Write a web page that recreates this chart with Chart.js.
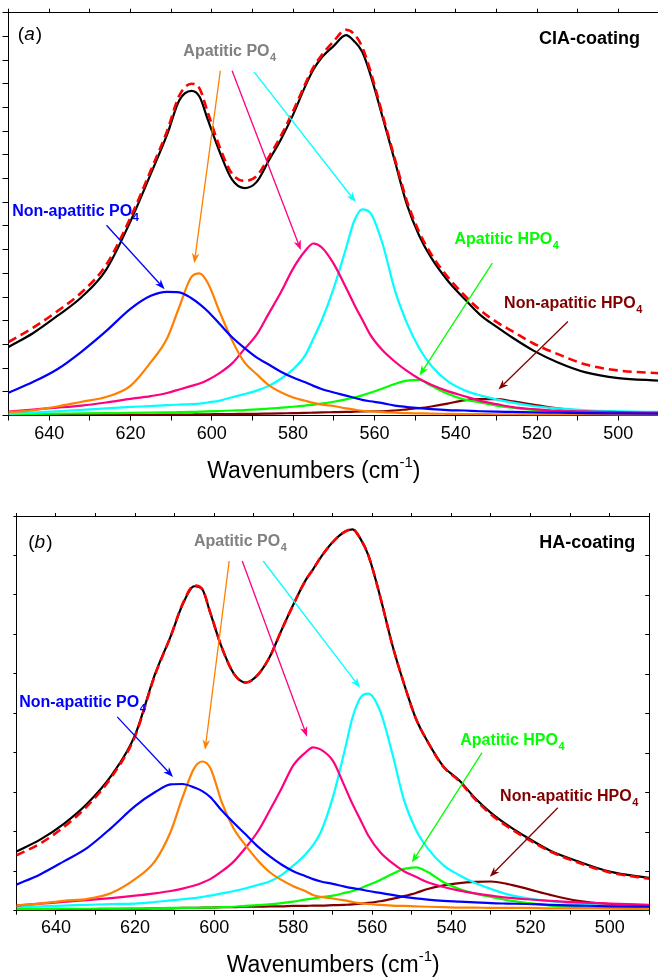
<!DOCTYPE html>
<html>
<head>
<meta charset="utf-8">
<title>PO4 band deconvolution</title>
<script src="https://cdn.jsdelivr.net/npm/chart.js@4.4.1/dist/chart.umd.min.js"></script>
<style>
  html, body { margin: 0; padding: 0; background: #fff; overflow: hidden; }
  .panel { position: absolute; left: 0; }
  #panel-a { top: 0; }
  #panel-b { top: 490px; }
</style>
</head>
<body>
<div class="panel" id="panel-a"><canvas id="chart-a" width="662" height="490"></canvas></div>
<div class="panel" id="panel-b"><canvas id="chart-b" width="658" height="489"></canvas></div>
<script>
// shared x grid (cm-1)
const wavenumbers = [650, 644, 638, 632, 626, 620, 615, 611, 608, 605, 603, 601, 598, 595, 592, 589, 586, 583, 580, 577, 575, 573, 570, 567, 565, 563, 561, 558, 555, 552, 549, 546, 542, 538, 534, 530, 526, 521, 515, 508, 500, 490];
const xTickLabels = [640, 620, 600, 580, 560, 540, 520, 500];

// (a) CIA-coating
const ciaMeasured = [2.89, 3.47, 4.2, 5.0, 6.15, 8.2, 10.2, 11.85, 13.3, 13.7, 13.45, 12.5, 11.1, 9.95, 9.6, 9.85, 10.75, 11.65, 12.7, 13.9, 14.6, 15.1, 15.6, 16.05, 15.8, 15.35, 14.4, 12.6, 10.75, 8.9, 7.6, 6.65, 5.7, 4.95, 4.25, 3.75, 3.28, 2.75, 2.25, 1.82, 1.58, 1.47];
const ciaFit = [3.1, 3.7, 4.4, 5.2, 6.35, 8.35, 10.35, 12.0, 13.5, 14.0, 13.8, 12.8, 11.3, 10.2, 9.9, 10.1, 10.9, 11.8, 12.85, 14.0, 14.7, 15.2, 15.8, 16.28, 16.1, 15.55, 14.55, 12.7, 10.85, 9.05, 7.75, 6.8, 5.85, 5.1, 4.45, 3.95, 3.55, 3.05, 2.6, 2.15, 1.9, 1.78];
const ciaNonApPO4 = [0.96, 1.41, 1.95, 2.7, 3.56, 4.5, 5.05, 5.22, 5.2, 4.95, 4.7, 4.4, 3.85, 3.3, 2.85, 2.45, 2.15, 1.85, 1.6, 1.4, 1.25, 1.12, 0.97, 0.84, 0.75, 0.66, 0.6, 0.52, 0.42, 0.36, 0.31, 0.27, 0.23, 0.21, 0.18, 0.16, 0.15, 0.13, 0.12, 0.1, 0.09, 0.08];
const ciaApPO4a = [0.14, 0.22, 0.38, 0.58, 0.78, 1.25, 2.25, 3.25, 4.58, 5.85, 6.0, 5.6, 4.35, 3.17, 2.25, 1.75, 1.28, 0.98, 0.76, 0.62, 0.53, 0.46, 0.4, 0.3, 0.25, 0.2, 0.17, 0.14, 0.12, 0.1, 0.09, 0.08, 0.07, 0.06, 0.06, 0.05, 0.05, 0.04, 0.04, 0.04, 0.03, 0.03];
const ciaApPO4b = [0.17, 0.25, 0.33, 0.42, 0.55, 0.7, 0.82, 0.95, 1.1, 1.25, 1.35, 1.5, 1.8, 2.2, 2.8, 3.4, 4.3, 5.2, 6.2, 6.95, 7.26, 7.1, 6.4, 5.4, 4.7, 4.05, 3.4, 2.75, 2.28, 1.88, 1.55, 1.3, 1.03, 0.82, 0.62, 0.48, 0.35, 0.27, 0.2, 0.17, 0.14, 0.12];
const ciaApPO4c = [0.07, 0.12, 0.18, 0.24, 0.3, 0.36, 0.4, 0.44, 0.46, 0.48, 0.5, 0.55, 0.63, 0.77, 0.9, 1.05, 1.25, 1.55, 1.95, 2.55, 3.25, 4.0, 5.38, 7.05, 8.2, 8.7, 8.55, 7.25, 5.3, 3.9, 2.85, 2.1, 1.45, 1.08, 0.85, 0.68, 0.54, 0.4, 0.3, 0.22, 0.18, 0.15];
const ciaApHPO4 = [0.06, 0.07, 0.08, 0.09, 0.1, 0.11, 0.12, 0.13, 0.14, 0.15, 0.16, 0.17, 0.19, 0.21, 0.23, 0.26, 0.29, 0.33, 0.37, 0.42, 0.46, 0.5, 0.58, 0.68, 0.76, 0.85, 0.96, 1.14, 1.33, 1.47, 1.5, 1.25, 0.92, 0.68, 0.55, 0.42, 0.33, 0.24, 0.16, 0.12, 0.09, 0.08];
const ciaNonApHPO4 = [0.01, 0.01, 0.02, 0.02, 0.02, 0.03, 0.03, 0.04, 0.04, 0.04, 0.05, 0.05, 0.06, 0.06, 0.07, 0.07, 0.08, 0.09, 0.1, 0.11, 0.12, 0.13, 0.14, 0.15, 0.16, 0.17, 0.18, 0.18, 0.21, 0.26, 0.31, 0.38, 0.5, 0.64, 0.69, 0.69, 0.6, 0.46, 0.3, 0.18, 0.11, 0.07];

// (b) HA-coating
const haMeasured = [1.5, 1.8, 2.2, 2.72, 3.42, 4.45, 5.98, 6.95, 7.75, 8.22, 8.14, 7.55, 6.65, 6.0, 5.78, 5.97, 6.42, 7.1, 7.75, 8.35, 8.65, 8.96, 9.34, 9.6, 9.66, 9.42, 9.0, 7.95, 6.75, 5.75, 4.87, 4.28, 3.65, 3.3, 2.85, 2.48, 2.18, 1.86, 1.52, 1.25, 0.99, 0.83];
const haFit = [1.4, 1.7, 2.12, 2.66, 3.38, 4.42, 5.96, 6.95, 7.77, 8.24, 8.15, 7.56, 6.65, 6.0, 5.78, 5.97, 6.42, 7.1, 7.75, 8.35, 8.65, 8.96, 9.34, 9.6, 9.66, 9.42, 9.0, 7.95, 6.75, 5.75, 4.87, 4.28, 3.64, 3.28, 2.82, 2.44, 2.14, 1.83, 1.5, 1.22, 0.97, 0.81];
const haNonApPO4 = [0.66, 0.92, 1.25, 1.6, 2.1, 2.65, 3.0, 3.2, 3.21, 3.12, 3.03, 2.88, 2.53, 2.22, 1.93, 1.63, 1.38, 1.17, 1.0, 0.88, 0.8, 0.74, 0.68, 0.61, 0.57, 0.54, 0.5, 0.45, 0.4, 0.35, 0.31, 0.28, 0.25, 0.23, 0.21, 0.19, 0.18, 0.17, 0.15, 0.13, 0.11, 0.1];
const haApPO4a = [0.13, 0.18, 0.25, 0.3, 0.45, 0.8, 1.25, 2.0, 2.87, 3.62, 3.78, 3.62, 2.73, 2.07, 1.65, 1.28, 0.98, 0.78, 0.62, 0.5, 0.4, 0.35, 0.31, 0.26, 0.22, 0.19, 0.17, 0.15, 0.13, 0.12, 0.11, 0.1, 0.09, 0.08, 0.08, 0.07, 0.07, 0.07, 0.06, 0.06, 0.06, 0.05];
const haApPO4b = [0.13, 0.18, 0.22, 0.27, 0.32, 0.38, 0.44, 0.5, 0.56, 0.64, 0.71, 0.8, 1.0, 1.25, 1.6, 2.0, 2.53, 3.09, 3.68, 4.0, 4.14, 4.08, 3.8, 3.15, 2.7, 2.3, 1.9, 1.48, 1.21, 1.0, 0.86, 0.72, 0.6, 0.51, 0.44, 0.38, 0.33, 0.29, 0.25, 0.21, 0.18, 0.15];
const haApPO4c = [0.09, 0.11, 0.13, 0.15, 0.17, 0.18, 0.22, 0.26, 0.29, 0.32, 0.35, 0.38, 0.44, 0.5, 0.57, 0.65, 0.74, 0.9, 1.14, 1.42, 1.66, 2.0, 2.87, 4.06, 4.9, 5.4, 5.5, 5.05, 4.0, 2.8, 2.05, 1.58, 1.15, 0.9, 0.7, 0.55, 0.42, 0.32, 0.24, 0.17, 0.12, 0.08];
const haApHPO4 = [0.04, 0.04, 0.05, 0.05, 0.05, 0.06, 0.06, 0.07, 0.07, 0.07, 0.08, 0.08, 0.09, 0.1, 0.12, 0.14, 0.16, 0.19, 0.23, 0.28, 0.31, 0.34, 0.38, 0.45, 0.5, 0.57, 0.65, 0.78, 0.93, 1.06, 1.1, 0.98, 0.72, 0.55, 0.43, 0.35, 0.27, 0.2, 0.13, 0.09, 0.06, 0.04];
const haNonApHPO4 = [0.03, 0.03, 0.04, 0.04, 0.05, 0.05, 0.06, 0.06, 0.07, 0.07, 0.08, 0.08, 0.09, 0.09, 0.1, 0.1, 0.11, 0.11, 0.12, 0.12, 0.13, 0.13, 0.14, 0.15, 0.16, 0.18, 0.2, 0.24, 0.3, 0.37, 0.45, 0.55, 0.64, 0.7, 0.73, 0.74, 0.68, 0.56, 0.4, 0.25, 0.17, 0.13];

const FONT = '"Liberation Sans", Arial, Helvetica, sans-serif';
const COLORS = {
    measured: '#000000', fit: '#ff0000', nonApPO4: '#0000ff', apPO4a: '#ff8000',
    apPO4b: '#ff0080', apPO4c: '#00ffff', apHPO4: '#00ff00', nonApHPO4: '#800000', apLabel: '#808080'
};

function lineSet(label, values, color, width, dash) {
    return {
        label,
        data: wavenumbers.map((w, i) => ({ x: w, y: values[i] })),
        borderColor: color,
        borderWidth: width,
        borderDash: dash || [],
        pointRadius: 0,
        fill: false,
        cubicInterpolationMode: 'monotone'
    };
}

function drawArrow(ctx, x1, y1, x2, y2, color) {
    const ang = Math.atan2(y2 - y1, x2 - x1);
    const len = 10, half = 3.8;
    ctx.strokeStyle = color;
    ctx.fillStyle = color;
    ctx.lineWidth = 1.3;
    ctx.beginPath();
    ctx.moveTo(x1, y1);
    ctx.lineTo(x2 - Math.cos(ang) * len * 0.7, y2 - Math.sin(ang) * len * 0.7);
    ctx.stroke();
    ctx.beginPath();
    ctx.moveTo(x2, y2);
    ctx.lineTo(x2 - Math.cos(ang) * len - Math.sin(ang) * half, y2 - Math.sin(ang) * len + Math.cos(ang) * half);
    ctx.lineTo(x2 - Math.cos(ang) * len * 0.7, y2 - Math.sin(ang) * len * 0.7);
    ctx.lineTo(x2 - Math.cos(ang) * len + Math.sin(ang) * half, y2 - Math.sin(ang) * len - Math.cos(ang) * half);
    ctx.closePath();
    ctx.fill();
}

function drawLabel(ctx, l, x, y) {
    ctx.fillStyle = l.color;
    ctx.textBaseline = 'alphabetic';
    ctx.textAlign = 'left';
    ctx.font = `bold ${l.size || 16}px ${FONT}`;
    ctx.fillText(l.text, x, y);
    if (l.sub) {
        const w = ctx.measureText(l.text).width;
        ctx.font = `bold 11px ${FONT}`;
        ctx.fillText(l.sub, x + w + 0.5, y + 5);
    }
}

// arrows, labels, panel letter and axis title, all placed in data units
function notesPlugin(notes) {
    return {
        id: 'notes',
        afterDraw(chart) {
            const { ctx, chartArea, scales } = chart;
            const px = w => scales.x.getPixelForValue(w);
            const py = v => scales.y.getPixelForValue(v);
            ctx.save();
            notes.arrows.forEach(a => drawArrow(ctx, px(a.from[0]), py(a.from[1]), px(a.to[0]), py(a.to[1]), a.color));
            notes.labels.forEach(l => drawLabel(ctx, l, px(l.at[0]), py(l.at[1])));

            // "(a)" with italic letter
            let x = px(notes.letterAt[0]);
            const y = py(notes.letterAt[1]);
            ctx.fillStyle = '#000';
            ctx.font = `19px ${FONT}`;
            ctx.fillText('(', x, y);
            x += ctx.measureText('(').width;
            ctx.font = `italic 19px ${FONT}`;
            ctx.fillText(notes.letter, x, y);
            x += ctx.measureText(notes.letter).width + 1;
            ctx.font = `19px ${FONT}`;
            ctx.fillText(')', x, y);

            // axis title with superscript
            const main = 'Wavenumbers (cm', sup = '-1', end = ')';
            ctx.font = `23px ${FONT}`;
            const wMain = ctx.measureText(main).width, wEnd = ctx.measureText(end).width;
            ctx.font = `15px ${FONT}`;
            const wSup = ctx.measureText(sup).width;
            let tx = px(notes.titleAt) - (wMain + wSup + wEnd) / 2;
            const ty = chartArea.bottom + notes.titleOffset;
            ctx.font = `23px ${FONT}`;
            ctx.fillText(main, tx, ty);
            tx += wMain;
            ctx.font = `15px ${FONT}`;
            ctx.fillText(sup, tx, ty - 11);
            tx += wSup;
            ctx.font = `23px ${FONT}`;
            ctx.fillText(end, tx, ty);

            if (notes.innerRightTicks) {
                ctx.strokeStyle = '#000';
                ctx.lineWidth = 1;
                for (let v = scales.y.min + 1; v < scales.y.max; v++) {
                    const yy = Math.round(py(v)) + 0.5;
                    ctx.beginPath();
                    ctx.moveTo(chartArea.right - 4, yy);
                    ctx.lineTo(chartArea.right, yy);
                    ctx.stroke();
                }
            }
            ctx.restore();
        }
    };
}

function buildChart(canvasId, series, frame, notes) {
    const scales = {
        x: {
            type: 'linear', position: 'bottom', min: 490, max: 650, reverse: true,
            ticks: {
                stepSize: 10, color: '#000', padding: 3, maxRotation: 0, autoSkip: false,
                font: { family: FONT, size: 18 },
                callback: v => xTickLabels.includes(v) ? String(v) : ''
            },
            grid: { drawOnChartArea: false, tickLength: frame.bottomTick, color: '#000' },
            border: { color: '#000', width: 1 },
            afterFit: s => { s.height = frame.bottom; }
        },
        x2: {
            type: 'linear', position: 'top', min: 490, max: 650, reverse: true,
            ticks: { display: false, stepSize: 10 },
            grid: { drawOnChartArea: false, tickLength: frame.topTick, color: '#000' },
            border: { color: '#000', width: 1 },
            afterFit: s => { s.height = frame.top; }
        },
        y: {
            type: 'linear', position: 'left', min: 0, max: frame.yMax,
            ticks: { display: false, stepSize: 1 },
            grid: { drawOnChartArea: false, tickLength: frame.leftTick, color: '#000' },
            border: { color: '#000', width: 1 },
            afterFit: s => { s.width = frame.left; }
        }
    };
    if (frame.right) {
        scales.y2 = {
            type: 'linear', position: 'right', min: 0, max: frame.yMax,
            ticks: { display: false, stepSize: 1 },
            grid: { drawOnChartArea: false, drawTicks: false },
            border: { color: '#000', width: 1 },
            afterFit: s => { s.width = frame.right; }
        };
    }
    return new Chart(document.getElementById(canvasId), {
        type: 'line',
        data: { datasets: series },
        options: {
            responsive: false,
            animation: false,
            devicePixelRatio: 1,
            layout: { padding: { left: 0, right: frame.padRight || 0, top: 0, bottom: 0 } },
            plugins: { legend: { display: false }, tooltip: { enabled: false } },
            scales
        },
        plugins: [notesPlugin(notes)]
    });
}

document.addEventListener('DOMContentLoaded', () => {
    const lw = 2.2;
    buildChart('chart-a', [
        lineSet('Fit', ciaFit, COLORS.fit, 2.6, [9, 5]),
        lineSet('CIA-coating', ciaMeasured, COLORS.measured, lw),
        lineSet('Non-apatitic PO4', ciaNonApPO4, COLORS.nonApPO4, lw),
        lineSet('Apatitic PO4 603', ciaApPO4a, COLORS.apPO4a, lw),
        lineSet('Apatitic PO4 575', ciaApPO4b, COLORS.apPO4b, lw),
        lineSet('Apatitic PO4 562', ciaApPO4c, COLORS.apPO4c, lw),
        lineSet('Apatitic HPO4', ciaApHPO4, COLORS.apHPO4, lw),
        lineSet('Non-apatitic HPO4', ciaNonApHPO4, COLORS.nonApHPO4, lw)
    ], { top: 12.7, bottom: 74.5, left: 8.5, padRight: 0.5, yMax: 17, topTick: 4, bottomTick: 5, leftTick: 6 }, {
        letter: 'a', letterAt: [647.7, 15.86], titleAt: 574.9, titleOffset: 62,
        labels: [
            { text: 'Apatitic PO', sub: '4', at: [607.0, 15.18], color: COLORS.apLabel },
            { text: 'CIA-coating', at: [519.5, 15.69], color: '#000', size: 18 },
            { text: 'Non-apatitic PO', sub: '4', at: [649.1, 8.41], color: COLORS.nonApPO4 },
            { text: 'Apatitic HPO', sub: '4', at: [540.3, 7.23], color: COLORS.apHPO4 },
            { text: 'Non-apatitic HPO', sub: '4', at: [528.1, 4.55], color: COLORS.nonApHPO4 }
        ],
        arrows: [
            { from: [625.9, 8.03], to: [611.6, 5.33], color: COLORS.nonApPO4 },
            { from: [597.9, 14.55], to: [604.3, 6.43], color: COLORS.apPO4a },
            { from: [595.0, 14.55], to: [578.1, 6.98], color: COLORS.apPO4b },
            { from: [589.6, 14.50], to: [564.6, 9.01], color: COLORS.apPO4c },
            { from: [531.0, 6.43], to: [548.9, 1.69], color: COLORS.apHPO4 },
            { from: [512.4, 3.97], to: [529.5, 1.10], color: COLORS.nonApHPO4 }
        ]
    });

    buildChart('chart-b', [
        lineSet('Fit', haFit, COLORS.fit, 2.6, [9, 5]),
        lineSet('HA-coating', haMeasured, COLORS.measured, lw),
        lineSet('Non-apatitic PO4', haNonApPO4, COLORS.nonApPO4, lw),
        lineSet('Apatitic PO4 603', haApPO4a, COLORS.apPO4a, lw),
        lineSet('Apatitic PO4 575', haApPO4b, COLORS.apPO4b, lw),
        lineSet('Apatitic PO4 562', haApPO4c, COLORS.apPO4c, lw),
        lineSet('Apatitic HPO4', haApHPO4, COLORS.apHPO4, lw),
        lineSet('Non-apatitic HPO4', haNonApHPO4, COLORS.nonApHPO4, lw)
    ], { top: 26, bottom: 68.3, left: 16.4, right: 8.8, yMax: 10, topTick: 3, bottomTick: 4, leftTick: 3 }, {
        letter: 'b', letterAt: [647.0, 9.2], titleAt: 569.9, titleOffset: 61, innerRightTicks: true,
        labels: [
            { text: 'Apatitic PO', sub: '4', at: [605.1, 9.24], color: COLORS.apLabel },
            { text: 'HA-coating', at: [517.8, 9.18], color: '#000', size: 18 },
            { text: 'Non-apatitic PO', sub: '4', at: [649.3, 5.17], color: COLORS.nonApPO4 },
            { text: 'Apatitic HPO', sub: '4', at: [537.8, 4.2], color: COLORS.apHPO4 },
            { text: 'Non-apatitic HPO', sub: '4', at: [527.7, 2.79], color: COLORS.nonApHPO4 }
        ],
        arrows: [
            { from: [624.5, 4.91], to: [610.4, 3.39], color: COLORS.nonApPO4 },
            { from: [596.2, 8.86], to: [602.3, 4.08], color: COLORS.apPO4a },
            { from: [592.9, 8.86], to: [576.5, 4.41], color: COLORS.apPO4b },
            { from: [587.6, 8.86], to: [563.1, 5.65], color: COLORS.apPO4c },
            { from: [532.3, 4.0], to: [550.0, 1.22], color: COLORS.apHPO4 },
            { from: [513.1, 2.61], to: [530.3, 0.86], color: COLORS.nonApHPO4 }
        ]
    });
});
</script>
</body>
</html>
